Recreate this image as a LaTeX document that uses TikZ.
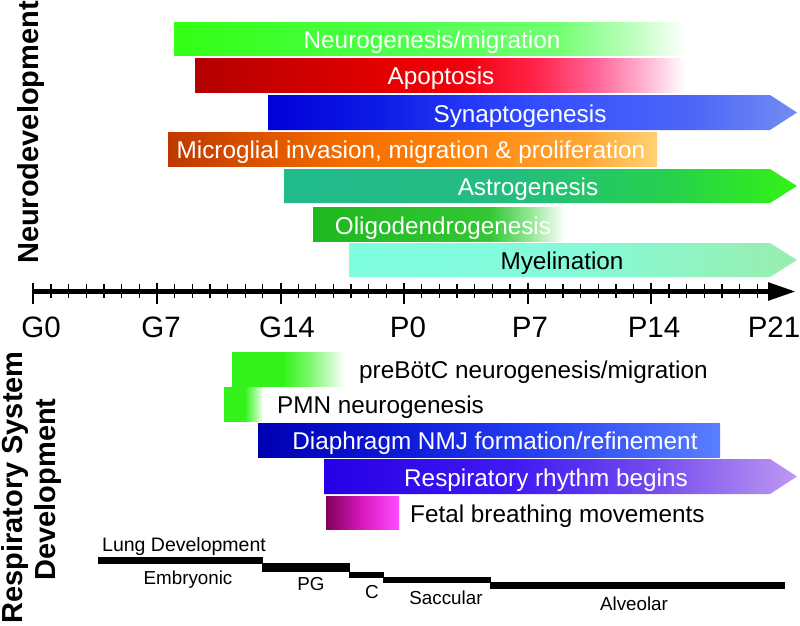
\documentclass[tikz,border=0pt]{standalone}
\usepackage{fontspec}
\setmainfont{Liberation Sans}
\usetikzlibrary{arrows.meta}

\pgfdeclarehorizontalshading{shNeuro}{100bp}{rgb(0bp)=(0.2,1,0.08); rgb(25bp)=(0.2,1,0.08); rgb(47.5bp)=(0.3,1,0.3); rgb(62.5bp)=(0.45,1,0.45); rgb(70bp)=(0.75,1,0.75); rgb(75bp)=(1,1,1); rgb(100bp)=(1,1,1)}
\pgfdeclarehorizontalshading{shApop}{100bp}{rgb(0bp)=(0.7,0,0); rgb(25bp)=(0.7,0,0); rgb(45bp)=(0.9,0,0); rgb(52.5bp)=(0.95,0,0.05); rgb(60bp)=(1,0.15,0.3); rgb(66bp)=(1,0.4,0.6); rgb(71.5bp)=(1,0.75,0.85); rgb(75bp)=(1,1,1); rgb(100bp)=(1,1,1)}
\pgfdeclarehorizontalshading{shSyn}{100bp}{rgb(0bp)=(0,0,0.85); rgb(25bp)=(0,0,0.85); rgb(35bp)=(0.05,0.1,0.9); rgb(50bp)=(0.2,0.3,1); rgb(65bp)=(0.3,0.4,0.97); rgb(75bp)=(0.45,0.55,0.95); rgb(100bp)=(0.45,0.55,0.95)}
\pgfdeclarehorizontalshading{shMicro}{100bp}{rgb(0bp)=(0.75,0.22,0); rgb(25bp)=(0.75,0.22,0); rgb(42.5bp)=(0.95,0.42,0); rgb(55bp)=(1,0.52,0.05); rgb(67.5bp)=(1,0.65,0.2); rgb(75bp)=(1,0.82,0.45); rgb(100bp)=(1,0.82,0.45)}
\pgfdeclarehorizontalshading{shAstro}{100bp}{rgb(0bp)=(0.13,0.73,0.55); rgb(25bp)=(0.13,0.73,0.55); rgb(47.5bp)=(0.14,0.74,0.5); rgb(62.5bp)=(0.15,0.82,0.3); rgb(75bp)=(0.2,0.95,0.08); rgb(100bp)=(0.2,0.95,0.08)}
\pgfdeclarehorizontalshading{shOligo}{100bp}{rgb(0bp)=(0.12,0.72,0.12); rgb(25bp)=(0.12,0.72,0.12); rgb(60bp)=(0.2,0.78,0.2); rgb(67.5bp)=(0.55,0.9,0.55); rgb(75bp)=(1,1,1); rgb(100bp)=(1,1,1)}
\pgfdeclarehorizontalshading{shMyel}{100bp}{rgb(0bp)=(0.5,1,0.88); rgb(25bp)=(0.5,1,0.88); rgb(50bp)=(0.52,0.98,0.85); rgb(75bp)=(0.6,0.93,0.68); rgb(100bp)=(0.6,0.93,0.68)}
\pgfdeclarehorizontalshading{shPre}{100bp}{rgb(0bp)=(0.2,0.95,0.1); rgb(25bp)=(0.2,0.95,0.1); rgb(47.5bp)=(0.2,0.95,0.1); rgb(60bp)=(0.5,0.97,0.45); rgb(75bp)=(1,1,1); rgb(100bp)=(1,1,1)}
\pgfdeclarehorizontalshading{shPMN}{100bp}{rgb(0bp)=(0.2,0.95,0.1); rgb(25bp)=(0.2,0.95,0.1); rgb(52.5bp)=(0.2,0.95,0.1); rgb(75bp)=(0.9,1,0.9); rgb(100bp)=(0.9,1,0.9)}
\pgfdeclarehorizontalshading{shDia}{100bp}{rgb(0bp)=(0,0,0.7); rgb(25bp)=(0,0,0.7); rgb(40bp)=(0.05,0.1,0.85); rgb(55bp)=(0.15,0.25,0.95); rgb(75bp)=(0.35,0.5,1); rgb(100bp)=(0.35,0.5,1)}
\pgfdeclarehorizontalshading{shResp}{100bp}{rgb(0bp)=(0.15,0,0.9); rgb(25bp)=(0.15,0,0.9); rgb(45bp)=(0.25,0.1,0.95); rgb(60bp)=(0.45,0.3,0.93); rgb(75bp)=(0.75,0.6,0.95); rgb(100bp)=(0.75,0.6,0.95)}
\pgfdeclarehorizontalshading{shFetal}{100bp}{rgb(0bp)=(0.5,0,0.35); rgb(25bp)=(0.5,0,0.35); rgb(50bp)=(0.85,0.1,0.75); rgb(75bp)=(1,0.3,1); rgb(100bp)=(1,0.3,1)}

% #1 x-left, #2 x-right, #3 y-top, #4 y-bottom, #5 shading
\newcommand{\rectbar}[5]{\path[shading=#5] (#1,#3) rectangle (#2,#4);}
% #1 x-left, #2 x-shoulder, #3 y-top, #4 y-bottom, #5 x-tip, #6 shading
\newcommand{\arrowbar}[6]{\path[shading=#6] (#1,#3) -- (#2,#3) -- (#5,{(#3+#4)/2}) -- (#2,#4) -- (#1,#4) -- cycle;}

\begin{document}
\begin{tikzpicture}[x=1pt,y=-1pt,
  bartext/.style={anchor=base, inner sep=0pt, font=\fontsize{24.3}{26}\selectfont, text=white},
  sidetext/.style={anchor=base west, inner sep=0pt, font=\fontsize{24.3}{26}\selectfont, text=black},
  axlab/.style={anchor=base, inner sep=0pt, font=\fontsize{29.5}{31}\selectfont},
  lunglab/.style={anchor=base, inner sep=0pt, font=\fontsize{18.8}{20}\selectfont},
  sidelab/.style={rotate=90, anchor=base, inner sep=0pt, font=\bfseries\fontsize{29}{31}\selectfont},
  minortick/.style={line width=1.3pt},
  majortick/.style={line width=2pt}]
\useasboundingbox (0,0) rectangle (800,625);

% ---- Neurodevelopment bars
\rectbar{174}{685}{22}{55}{shNeuro}
\node[bartext] (neuro) at (432,48) {Neurogenesis/migration};
\rectbar{195}{685}{58}{92}{shApop}
\node[bartext] (apop) at (441,84.5) {Apoptosis};
\arrowbar{268}{770}{95}{130}{797}{shSyn}
\node[bartext] (syn) at (520,122) {Synaptogenesis};
\rectbar{168}{657}{132}{166}{shMicro}
\node[bartext] (micro) at (411,158.5) {Microglial invasion, migration \& proliferation};
\arrowbar{284}{770}{169}{203}{797}{shAstro}
\node[bartext] (astro) at (528,195.5) {Astrogenesis};
\rectbar{313}{565}{207}{241}{shOligo}
\node[bartext] (oligo) at (443,234) {Oligodendrogenesis};
\arrowbar{349}{770}{243}{277}{797}{shMyel}
\node[bartext, text=black] (myel) at (562,269.5) {Myelination};

% ---- time axis
\coordinate (axL) at (33,291.5);
\coordinate (axR) at (796,291.5);
\foreach \i in {0,...,41} {
  \draw[minortick] ({33.3+\i*17.657},284) -- ({33.3+\i*17.657},297.5);
}
\foreach \i in {0,...,5} {
  \draw[majortick] ({33.3+\i*123.6},283) -- ({33.3+\i*123.6},303.5);
}
\draw[line width=5.5pt, -{Triangle[length=28pt,width=17pt]}] (axL) -- (axR);

\node[axlab] (g0)  at (41,337)  {G0};
\node[axlab] (g7)  at (161,337) {G7};
\node[axlab] (g14) at (287,337) {G14};
\node[axlab] (p0)  at (408,337) {P0};
\node[axlab] (p7)  at (530,337) {P7};
\node[axlab] (p14) at (654,337) {P14};
\node[axlab] (p21) at (774,337) {P21};

% ---- Respiratory bars
\rectbar{232}{345}{352}{386}{shPre}
\node[sidetext] (pre) at (359,378.5) {preBötC neurogenesis/migration};
\rectbar{224}{262}{387}{421}{shPMN}
\node[sidetext] (pmn) at (277,413.5) {PMN neurogenesis};
\rectbar{258}{720}{423}{457}{shDia}
\node[bartext] (dia) at (495,449.5) {Diaphragm NMJ formation/refinement};
\arrowbar{324}{770}{459}{494}{797}{shResp}
\node[bartext] (resp) at (546,486) {Respiratory rhythm begins};
\rectbar{326}{399}{496}{529}{shFetal}
\node[sidetext] (fetal) at (410,522) {Fetal breathing movements};

% ---- Lung development steps
\fill (98,557) rectangle (262.5,563.5);
\fill (262,563) rectangle (349.5,572.2);
\fill (349,571.7) rectangle (383.5,578);
\fill (383,576.7) rectangle (490.5,582.8);
\fill (490,582.3) rectangle (785,589);
\node[anchor=base west, inner sep=0pt, font=\fontsize{19.5}{21}\selectfont] (lung) at (102,551) {Lung Development};
\node[lunglab] (emb) at (188,584) {Embryonic};
\node[lunglab] (pg)  at (311,590) {PG};
\node[lunglab] (cc)  at (372,598) {C};
\node[lunglab] (sac) at (446,604) {Saccular};
\node[lunglab] (alv) at (634,610) {Alveolar};

% ---- side labels
\node[sidelab] (nd) at (38.5,132.5) {Neurodevelopment};
\node[sidelab] (rs1) at (22.5,487.5) {Respiratory System};
\node[sidelab] (rs2) at (55,489.5) {Development};
\end{tikzpicture}
\end{document}
